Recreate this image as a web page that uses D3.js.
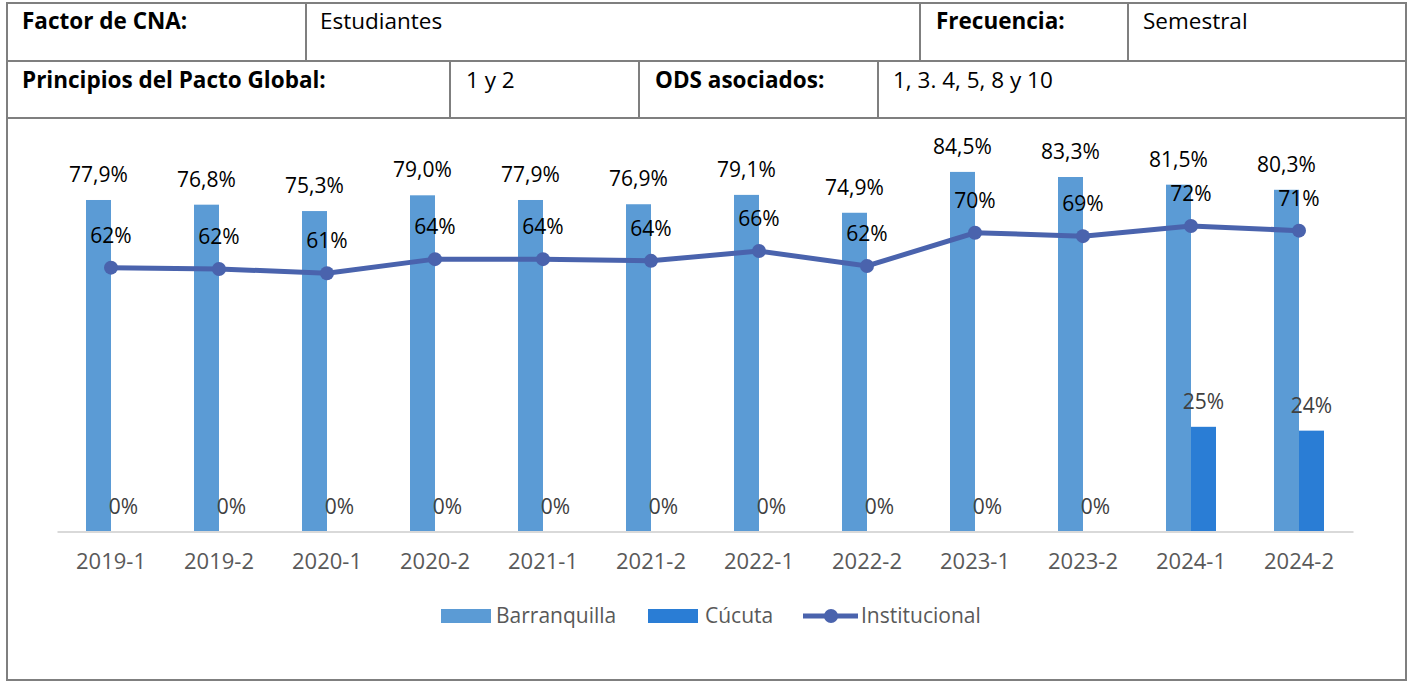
<!DOCTYPE html>
<html><head><meta charset="utf-8">
<script src="https://cdn.jsdelivr.net/npm/d3@7"></script>
<style>html,body{margin:0;padding:0;background:#fff;}svg{display:block;}</style>
</head><body>
<svg id="c" width="1413" height="681"></svg>
<script>
const categories = ["2019-1","2019-2","2020-1","2020-2","2021-1","2021-2","2022-1","2022-2","2023-1","2023-2","2024-1","2024-2"];
const barranquilla = [77.9,76.8,75.3,79.0,77.9,76.9,79.1,74.9,84.5,83.3,81.5,80.3];
const cucuta = [0,0,0,0,0,0,0,0,0,0,24.6,23.7];
const institucional = [62.0,61.7,60.7,64.0,64.0,63.6,65.9,62.4,70.2,69.4,71.8,70.7];
const seriesNames = ["Barranquilla","Cúcuta","Institucional"];
const headerRow1 = [["Factor de CNA:",true],["Estudiantes",false],["Frecuencia:",true],["Semestral",false]];
const headerRow2 = [["Principios del Pacto Global:",true],["1 y 2",false],["ODS asociados:",true],["1, 3. 4, 5, 8 y 10",false]];

const FONT = "'Open Sans', Lato, sans-serif";
const colB = "#5b9bd5", colC = "#2a7dd5", colL = "#4a63ad";
const svg = d3.select("#c");

// table borders
const bc = "#7f7f7f";
const g0 = svg.append("g").attr("stroke", bc).attr("stroke-width", 2);
const L=7, R=1406, T=3, r1=61, r2=118, B=680;
g0.append("rect").attr("x",L).attr("y",T).attr("width",R-L).attr("height",B-T).attr("fill","none");
g0.append("line").attr("x1",L).attr("x2",R).attr("y1",r1).attr("y2",r1);
g0.append("line").attr("x1",L).attr("x2",R).attr("y1",r2).attr("y2",r2);
[306,920,1128].forEach(x=>g0.append("line").attr("x1",x).attr("x2",x).attr("y1",T).attr("y2",r1));
[450,639,878].forEach(x=>g0.append("line").attr("x1",x).attr("x2",x).attr("y1",r1).attr("y2",r2));

const hx1=[22,320,936,1143], hx2=[22,466,655,893];
headerRow1.forEach((d,i)=>svg.append("text").attr("x",hx1[i]).attr("y",29).text(d[0])
  .attr("font-family",FONT).attr("font-size",22.5).attr("font-weight",d[1]?"bold":"normal").attr("fill","#000"));
headerRow2.forEach((d,i)=>svg.append("text").attr("x",hx2[i]).attr("y",88).text(d[0])
  .attr("font-family",FONT).attr("font-size",22.5).attr("font-weight",d[1]?"bold":"normal").attr("fill","#000"));

// chart
const x = d3.scaleBand().domain(categories).range([57,1353]).paddingInner(58/108).paddingOuter(29/108);
const x1 = d3.scaleBand().domain(["Barranquilla","Cúcuta"]).range([0,x.bandwidth()]);
const y = d3.scaleLinear().domain([0,90]).range([531.5,148.5]);

const data = categories.map((c,i)=>({c, b:barranquilla[i], cu:cucuta[i], l:institucional[i]}));

svg.append("g").selectAll("rect.b").data(data).join("rect")
  .attr("x",d=>x(d.c)+x1("Barranquilla")).attr("width",x1.bandwidth())
  .attr("y",d=>y(d.b)).attr("height",d=>y(0)-y(d.b)).attr("fill",colB);
svg.append("g").selectAll("rect.c").data(data).join("rect")
  .attr("x",d=>x(d.c)+x1("Cúcuta")).attr("width",x1.bandwidth())
  .attr("y",d=>y(d.cu)).attr("height",d=>y(0)-y(d.cu)).attr("fill",colC);

// axis
const ax = svg.append("g").attr("transform",`translate(0,${y(0)})`)
  .call(d3.axisBottom(x).tickSize(0).tickPadding(22));
ax.select(".domain").attr("stroke","#d9d9d9").attr("stroke-width",2);
ax.selectAll("text").attr("font-family",FONT).attr("font-size",22).attr("fill","#595959");

// line
const cx = d=>x(d.c)+x.bandwidth()/2;
svg.append("path").datum(data).attr("fill","none").attr("stroke",colL).attr("stroke-width",5)
  .attr("d",d3.line().x(cx).y(d=>y(d.l)));
svg.append("g").selectAll("circle").data(data).join("circle")
  .attr("cx",cx).attr("cy",d=>y(d.l)).attr("r",7).attr("fill",colL);

// labels
const fmt1 = v=>d3.format(".1f")(v).replace(".",",")+"%";
const fmt0 = v=>d3.format(".0f")(v)+"%";
svg.append("g").selectAll("text").data(data).join("text")
  .attr("x",d=>x(d.c)+x1("Barranquilla")+x1.bandwidth()/2).attr("y",d=>y(d.b)-18)
  .attr("text-anchor","middle").attr("font-family",FONT).attr("font-size",21).attr("fill","#000").text(d=>fmt1(d.b));
svg.append("g").selectAll("text").data(data).join("text")
  .attr("x",d=>x(d.c)+x1("Cúcuta")+x1.bandwidth()/2).attr("y",d=>y(d.cu)-18)
  .attr("text-anchor","middle").attr("font-family",FONT).attr("font-size",21).attr("fill","#404040").text(d=>fmt0(d.cu));
svg.append("g").selectAll("text").data(data).join("text")
  .attr("x",cx).attr("y",d=>y(d.l)-25)
  .attr("text-anchor","middle").attr("font-family",FONT).attr("font-size",21).attr("fill","#000").text(d=>fmt0(d.l));

// legend
const lg = svg.append("g");
const ly = 616;
lg.append("rect").attr("x",441).attr("y",ly-7).attr("width",50).attr("height",14).attr("fill",colB);
lg.append("text").attr("x",496).attr("y",ly+7).text(seriesNames[0]);
lg.append("rect").attr("x",648).attr("y",ly-7).attr("width",50).attr("height",14).attr("fill",colC);
lg.append("text").attr("x",705).attr("y",ly+7).text(seriesNames[1]);
lg.append("line").attr("x1",803).attr("x2",858).attr("y1",ly).attr("y2",ly).attr("stroke",colL).attr("stroke-width",5);
lg.append("circle").attr("cx",831).attr("cy",ly).attr("r",7).attr("fill",colL);
lg.append("text").attr("x",861).attr("y",ly+7).text(seriesNames[2]);
lg.selectAll("text").attr("font-family",FONT).attr("font-size",21).attr("fill","#595959");
</script>
</body></html>
